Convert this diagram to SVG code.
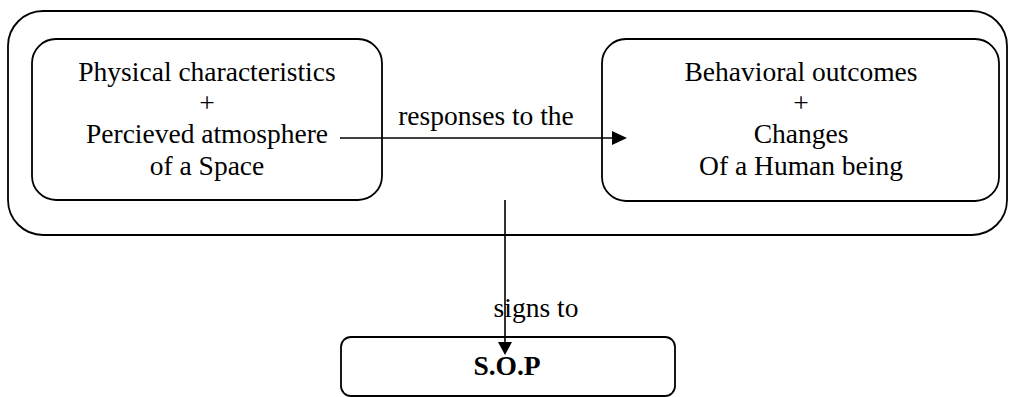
<svg xmlns="http://www.w3.org/2000/svg" width="1011" height="397" viewBox="0 0 1011 397">
<style>
.box{fill:none;stroke:#000;stroke-width:1.8}
.t{font-family:"Liberation Serif","Times New Roman",serif;font-size:27.5px;fill:#000;text-anchor:middle}
.b{font-weight:bold}
.ln{stroke:#000;stroke-width:1.6;fill:none}
.ah{fill:#000}
</style>
<rect width="1011" height="397" fill="#fff"/>
<g id="container">
<rect class="box" x="8" y="11" width="999" height="224" rx="35" ry="35"/>
</g>
<g id="node-physical">
<rect class="box" x="32" y="39" width="350" height="161" rx="24" ry="24"/>
<text class="t" x="207" y="81">Physical characteristics</text>
<text class="t" x="207" y="112">+</text>
<text class="t" x="207" y="143">Percieved atmosphere</text>
<text class="t" x="207" y="175">of a Space</text>
</g>
<g id="node-behavioral">
<rect class="box" x="602" y="39" width="397" height="162" rx="24" ry="24"/>
<text class="t" x="801" y="81">Behavioral outcomes</text>
<text class="t" x="801" y="112">+</text>
<text class="t" x="801" y="143">Changes</text>
<text class="t" x="801" y="175">Of a Human being</text>
</g>
<g id="node-sop">
<rect class="box" x="341" y="337" width="334" height="59" rx="10" ry="10"/>
<text class="t b" x="507" y="375">S.O.P</text>
</g>
<g id="connectors">
<line class="ln" x1="340" y1="138" x2="613" y2="138"/>
<polygon class="ah" points="612,131 627,138 612,145"/>
<text class="t" x="486" y="125">responses to the</text>
<line class="ln" x1="505" y1="200" x2="505" y2="343"/>
<polygon class="ah" points="498,342 512,342 505,355"/>
<text class="t" x="536" y="317">signs to</text>
</g>
</svg>
